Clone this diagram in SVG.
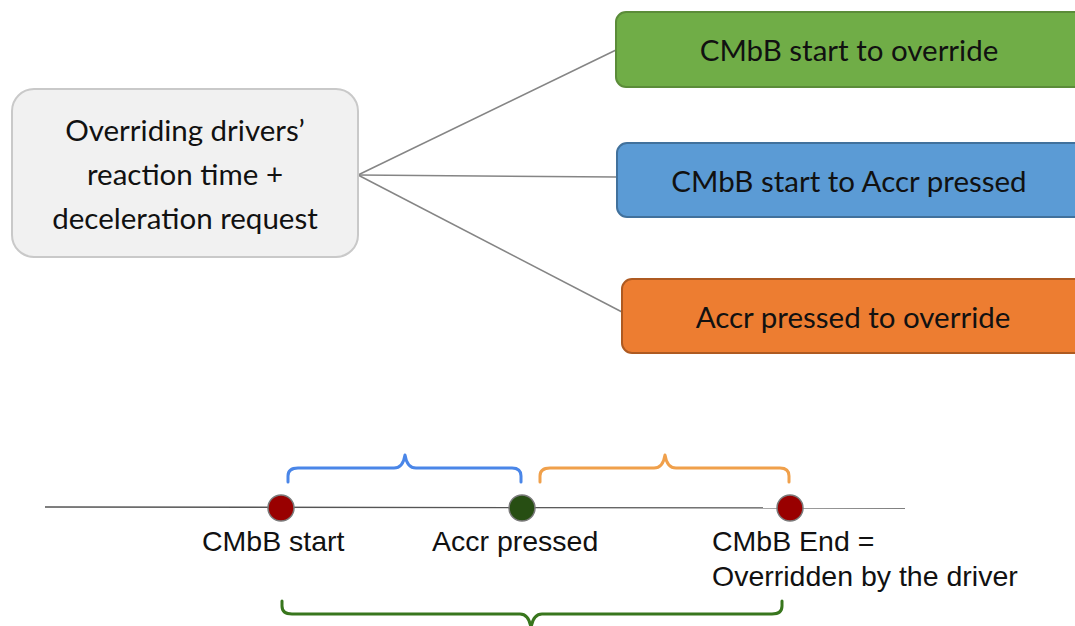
<svg xmlns="http://www.w3.org/2000/svg" width="1075" height="626" viewBox="0 0 1075 626">
  <style>
    .box-text { font-family: Lato, "Open Sans", sans-serif; font-size: 29.5px; fill: #111; text-anchor: middle; }
    .tl-text { font-family: "Liberation Sans", Arial, sans-serif; font-size: 28.5px; fill: #111; }
    .conn { stroke: #858585; stroke-width: 1.5; fill: none; }
    .brace { fill: none; stroke-width: 3; stroke-linecap: round; stroke-linejoin: round; }
    .dot { stroke: #7a7a7a; stroke-width: 1.5; }
  </style>
  <rect width="1075" height="626" fill="#ffffff"/>

  <!-- connectors from the summary node to the three categories -->
  <g id="connectors">
    <line class="conn" x1="358" y1="175" x2="616" y2="50"/>
    <line class="conn" x1="358" y1="175" x2="617" y2="177"/>
    <line class="conn" x1="358" y1="175" x2="622" y2="312"/>
  </g>

  <g id="node-summary">
    <rect x="12" y="89" width="346" height="168" rx="22" fill="#f1f1f1" stroke="#c9c9c9" stroke-width="2"/>
    <text class="box-text" x="185" y="141">Overriding drivers’</text>
    <text class="box-text" x="185" y="185">reaction time +</text>
    <text class="box-text" x="185" y="229">deceleration request</text>
  </g>

  <g id="node-start-to-override">
    <rect x="616" y="12" width="480" height="75" rx="10" fill="#70ad47" stroke="#5b8c39" stroke-width="2"/>
    <text class="box-text" x="849" y="61">CMbB start to override</text>
  </g>

  <g id="node-start-to-accr">
    <rect x="617" y="143" width="480" height="74" rx="10" fill="#5b9bd5" stroke="#41719c" stroke-width="2"/>
    <text class="box-text" x="849" y="192">CMbB start to Accr pressed</text>
  </g>

  <g id="node-accr-to-override">
    <rect x="622" y="279" width="480" height="74" rx="10" fill="#ed7d31" stroke="#ae5a21" stroke-width="2"/>
    <text class="box-text" x="853" y="328">Accr pressed to override</text>
  </g>

  <!-- timeline -->
  <g id="timeline">
    <line x1="45" y1="507" x2="905" y2="508" stroke="#555" stroke-width="1.3"/>
    <path class="brace" stroke="#4a86e8" d="M288,482 L288,476 Q288,468 298,468 L394,468 Q403,468 405,455 Q407,468 416,468 L512,468 Q521,468 521,476 L521,482"/>
    <path class="brace" stroke="#f0a04b" d="M540,482 L540,476 Q540,468 550,468 L654,468 Q663,468 665,455 Q667,468 676,468 L780,468 Q789,468 789,476 L789,482"/>
    <path class="brace" stroke="#38761d" d="M282,601 L282,606 Q282,614 292,614 L520,614 Q529,614 531,628 Q533,614 542,614 L772,614 Q782,614 782,606 L782,601"/>
  </g>

  <g id="event-start">
    <circle class="dot" cx="281" cy="508" r="13" fill="#990000"/>
    <text class="tl-text" x="202" y="551">CMbB start</text>
  </g>
  <g id="event-accr">
    <circle class="dot" cx="522" cy="508" r="13" fill="#274e13"/>
    <text class="tl-text" x="432" y="551">Accr pressed</text>
  </g>
  <g id="event-end">
    <circle class="dot" cx="790" cy="508" r="13" fill="#990000"/>
    <text class="tl-text" x="712" y="551">CMbB End =</text>
    <text class="tl-text" x="712" y="586">Overridden by the driver</text>
  </g>
</svg>
